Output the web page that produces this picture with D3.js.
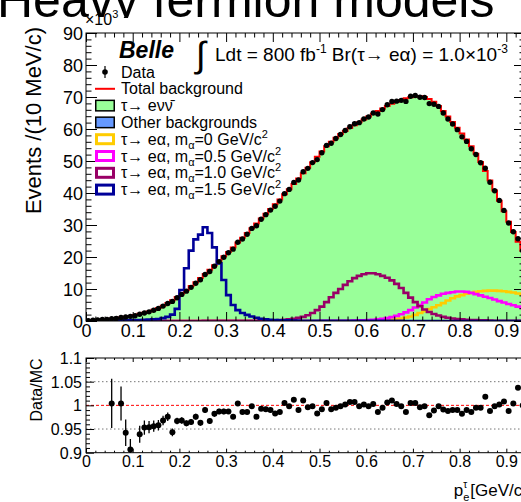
<!DOCTYPE html>
<html><head><meta charset="utf-8">
<script src="https://cdn.jsdelivr.net/npm/d3@7"></script>
<style>
body{margin:0;background:#fff}
svg{display:block}
text{font-family:"Liberation Sans",Arial,Helvetica,sans-serif;fill:#000}
</style></head>
<body><svg id="c" width="521" height="502"></svg>
<script>
// ---------------- DATA ----------------
const binLow = [0.00,0.01,0.02,0.03,0.04,0.05,0.06,0.07,0.08,0.09,
0.10,0.11,0.12,0.13,0.14,0.15,0.16,0.17,0.18,0.19,
0.20,0.21,0.22,0.23,0.24,0.25,0.26,0.27,0.28,0.29,
0.30,0.31,0.32,0.33,0.34,0.35,0.36,0.37,0.38,0.39,
0.40,0.41,0.42,0.43,0.44,0.45,0.46,0.47,0.48,0.49,
0.50,0.51,0.52,0.53,0.54,0.55,0.56,0.57,0.58,0.59,
0.60,0.61,0.62,0.63,0.64,0.65,0.66,0.67,0.68,0.69,
0.70,0.71,0.72,0.73,0.74,0.75,0.76,0.77,0.78,0.79,
0.80,0.81,0.82,0.83,0.84,0.85,0.86,0.87,0.88,0.89,
0.90,0.91,0.92,0.93];
// total background (x10^3 events / 10 MeV)
const totalBkg = [0.15,0.2,0.3,0.4,0.55,0.7,0.9,1.1,1.35,1.6,
1.9,2.25,2.6,3.0,3.5,4.1,4.8,5.6,6.5,7.5,
8.6,9.7,10.9,12.1,13.4,14.7,16.0,17.4,18.8,20.2,
21.6,23.0,24.5,26.0,27.5,29.0,30.5,32.0,33.5,35.0,
36.5,38.0,39.6,41.2,42.8,44.5,46.2,47.9,49.6,51.3,
53.0,54.6,56.0,57.3,58.4,59.4,60.3,61.2,62.1,63.0,
63.9,64.8,65.6,66.4,67.2,67.9,68.5,69.1,69.6,69.9,
70.1,70.2,70.0,69.4,68.5,67.2,65.6,63.9,62.2,60.4,
58.6,56.7,54.6,52.3,49.7,46.9,43.9,40.8,37.6,34.3,
31.0,27.8,24.8,22.0];
// other backgrounds
const otherBkg = [0.05,0.05,0.06,0.06,0.07,0.07,0.08,0.08,0.09,0.09,
0.1,0.1,0.1,0.11,0.11,0.12,0.12,0.13,0.13,0.14,
0.14,0.15,0.15,0.16,0.16,0.17,0.17,0.18,0.18,0.19,
0.19,0.2,0.2,0.2,0.21,0.21,0.22,0.22,0.22,0.23,
0.23,0.23,0.24,0.24,0.24,0.25,0.25,0.25,0.25,0.26,
0.26,0.26,0.26,0.26,0.27,0.27,0.27,0.27,0.27,0.27,
0.27,0.27,0.27,0.27,0.27,0.27,0.27,0.27,0.27,0.27,
0.27,0.27,0.26,0.26,0.26,0.25,0.25,0.24,0.24,0.23,
0.22,0.22,0.21,0.2,0.19,0.18,0.17,0.16,0.15,0.14,
0.13,0.12,0.11,0.1];
// data
const dataVals = [0.12,0.25,0.35,0.45,0.5,0.70,0.8,1.10,1.27,1.45,
1.65,2.11,2.48,2.86,3.35,3.93,4.65,5.47,6.13,7.25,
8.32,9.33,10.52,11.81,12.90,14.55,15.47,17.09,18.56,19.94,
21.32,22.45,24.60,25.64,27.12,28.94,29.77,31.78,33.23,34.65,
35.88,37.47,39.80,41.12,43.31,44.06,46.66,47.71,49.50,50.43,
52.58,54.87,55.55,57.01,58.28,59.52,60.72,61.63,61.98,63.13,
63.77,64.99,64.68,66.07,67.60,68.58,68.71,68.96,68.63,70.25,
70.45,69.92,69.86,67.94,67.75,67.07,65.01,63.13,61.58,59.80,
57.55,56.13,53.84,52.04,49.45,47.74,43.37,40.72,37.68,34.57,
30.63,27.91,25.72,22.0];
// signal: m_alpha = 0 GeV/c2
const sigM00 = [0,0,0,0,0,0,0,0,0,0,
0,0,0,0,0,0,0,0,0,0,
0,0,0,0,0,0,0,0,0,0,
0,0,0,0,0,0,0,0,0,0,
0,0,0,0,0,0,0,0,0,0,
0,0,0,0,0,0,0,0,0,0.05,
0.05,0.08,0.1,0.2,0.3,0.4,0.6,0.8,1.1,1.4,
1.9,2.5,3.1,3.7,4.3,4.9,5.6,6.4,7.1,7.7,
8.1,8.5,8.8,9.1,9.3,9.4,9.5,9.5,9.4,9.3,
9.1,8.9,8.6,8.3];
// signal: m_alpha = 0.5 GeV/c2
const sigM05 = [0,0,0,0,0,0,0,0,0,0,
0,0,0,0,0,0,0,0,0,0,
0,0,0,0,0,0,0,0,0,0,
0,0,0,0,0,0,0,0,0,0,
0,0,0,0,0,0,0,0,0,0.02,
0.03,0.04,0.05,0.06,0.08,0.1,0.1,0.15,0.2,0.25,
0.3,0.4,0.5,0.7,0.9,1.2,1.6,2.1,2.7,3.4,
4.2,5.0,5.8,6.8,7.5,8.0,8.5,8.8,9.0,9.2,
9.2,9.1,8.8,8.4,8.0,7.6,7.2,6.7,6.2,5.8,
5.3,4.9,4.5,4.1];
// signal: m_alpha = 1.0 GeV/c2
const sigM10 = [0,0,0,0,0,0,0,0,0,0,
0,0,0,0,0,0,0,0,0,0,
0,0,0,0,0,0.03,0.03,0.04,0.04,0.05,
0.05,0.05,0.06,0.06,0.07,0.08,0.1,0.12,0.15,0.18,
0.2,0.3,0.4,0.5,0.7,1.0,1.3,1.8,2.5,3.4,
4.5,5.9,7.4,8.8,10.0,11.3,12.4,13.4,14.1,14.6,
14.9,14.9,14.6,14.1,13.5,12.7,11.6,10.3,8.8,7.3,
5.9,4.6,3.6,2.8,2.2,1.7,1.3,1.0,0.8,0.6,
0.5,0.4,0.3,0.3,0.2,0.2,0.15,0.1,0.1,0.1,
0.08,0.08,0.06,0.06];
// signal: m_alpha = 1.5 GeV/c2
const sigM15 = [0.05,0.08,0.1,0.12,0.15,0.18,0.2,0.22,0.25,0.28,
0.3,0.33,0.37,0.42,0.5,0.6,0.9,1.3,2.0,3.8,
9.7,16.5,22.0,25.5,27.0,29.3,27.5,23.0,18.0,12.8,
8.1,5.0,3.4,2.5,1.9,1.4,1.0,0.7,0.5,0.4,
0.3,0.25,0.2,0.18,0.15,0.12,0.1,0.1,0.08,0.08,
0.07,0.07,0.06,0.06,0.05,0.05,0.05,0.05,0.04,0.04,
0.04,0.04,0.03,0.03,0.03,0.03,0.03,0.03,0.02,0.02,
0.02,0.02,0.02,0.02,0.02,0.02,0.02,0.02,0.02,0.02,
0.02,0.02,0.02,0.02,0.02,0.02,0.02,0.02,0.02,0.02,
0.02,0.02,0.02,0.02];
// Data/MC ratio (null = outside the displayed range)
const ratioVals = [null,null,null,null,null,1.004,null,1.004,0.942,0.907,
null,0.939,0.953,0.954,0.956,0.958,0.968,0.976,0.943,0.967,
0.968,0.962,0.965,0.976,0.963,0.990,0.967,0.982,0.987,0.987,
0.987,0.976,1.004,0.986,0.986,0.998,0.976,0.993,0.992,0.990,
0.983,0.986,1.005,0.998,1.012,0.990,1.010,0.996,0.998,0.983,
0.992,1.005,0.992,0.995,0.998,1.002,1.007,1.007,0.998,1.002,
0.998,1.003,0.986,0.995,1.006,1.010,1.003,0.998,0.986,1.005,
1.005,0.996,0.998,0.979,0.989,0.998,0.991,0.988,0.990,0.990,
0.982,0.990,0.986,0.995,0.995,1.018,0.988,0.998,1.002,1.008,
0.988,1.004,1.037,1.000];
const ratioErr = [null,null,null,null,null,0.052,null,0.036,0.028,0.022,
null,0.018,0.015,0.013,0.012,0.011,0.010,0.009,0.008,0.007,
0.007,0.006,0.006,0.006,0.006,0.006,0.006,0.006,0.006,0.006,
0.005,0.005,0.005,0.005,0.005,0.005,0.005,0.005,0.005,0.005,
0.005,0.005,0.005,0.005,0.005,0.005,0.005,0.005,0.005,0.005,
0.004,0.004,0.004,0.004,0.004,0.004,0.004,0.004,0.004,0.004,
0.004,0.004,0.004,0.004,0.004,0.004,0.004,0.004,0.004,0.004,
0.004,0.004,0.004,0.004,0.004,0.004,0.004,0.004,0.004,0.004,
0.004,0.004,0.004,0.004,0.004,0.004,0.004,0.004,0.004,0.004,
0.004,0.004,0.004,0.004];
const xMajorTicks = [0,0.1,0.2,0.3,0.4,0.5,0.6,0.7,0.8,0.9];
const yMainTicks = [0,10,20,30,40,50,60,70,80,90];
const yRatioTicks = [0.9,0.95,1,1.05,1.1];
const yRatioLabels = ["0.9","0.95","1","1.05","1.1"];
const legendLabels = ["Data","Total background","τ→ eνν̄","Other backgrounds",
  ["τ→ eα, m","α","=0 GeV/c","2"],["τ→ eα, m","α","=0.5 GeV/c","2"],
  ["τ→ eα, m","α","=1.0 GeV/c","2"],["τ→ eα, m","α","=1.5 GeV/c","2"]];

// ---------------- LAYOUT ----------------
const svg = d3.select("#c");
const L = 86, R = 525, T = 33, B = 321, RT = 358, RB = 452.7;
const x = d3.scaleLinear().domain([0, 0.94]).range([L, R]);
const y = d3.scaleLinear().domain([0, 90]).range([B, T]);
const yr = d3.scaleLinear().domain([0.9, 1.1]).range([RB, RT]);
const binW = binLow[1] - binLow[0];
const C = {green:"#99ff99", other:"#6699ff", red:"#ff0000", m00:"#ffcc00", m05:"#ff00ff", m10:"#990066", m15:"#000099"};

const defs = svg.append("defs");
defs.append("clipPath").attr("id","cm").append("rect").attr("x",L).attr("y",T).attr("width",R-L).attr("height",B-T);
defs.append("clipPath").attr("id","cr").append("rect").attr("x",L).attr("y",RT).attr("width",R-L).attr("height",RB-RT);
defs.append("clipPath").attr("id","ct").append("rect").attr("x",-10).attr("y",-60).attr("width",560).attr("height",78);

// title (cropped by the figure)
svg.append("text").attr("clip-path","url(#ct)").attr("x",-3).attr("y",17).attr("font-size",50).text("Heavy fermion models");

function steps(vals){
  const p = binLow.map((b,i)=>[b, vals[i]]);
  p.push([binLow[binLow.length-1]+binW, vals[vals.length-1]]);
  return p;
}
const stepLine = d3.line().x(d=>x(d[0])).y(d=>y(d[1])).curve(d3.curveStepAfter);

const gm = svg.append("g").attr("clip-path","url(#cm)");
const stackPts = binLow.map((b,i)=>[b, otherBkg[i], totalBkg[i]]);
stackPts.push([binLow[binLow.length-1]+binW, otherBkg[otherBkg.length-1], totalBkg[totalBkg.length-1]]);
gm.append("path").datum(stackPts)
  .attr("d", d3.area().x(d=>x(d[0])).y0(y(0)).y1(d=>y(d[1])).curve(d3.curveStepAfter))
  .attr("fill", C.other);
gm.append("path").datum(stackPts)
  .attr("d", d3.area().x(d=>x(d[0])).y0(d=>y(d[1])).y1(d=>y(d[2])).curve(d3.curveStepAfter))
  .attr("fill", C.green);
gm.append("path").datum(steps(totalBkg)).attr("d", stepLine)
  .attr("fill","none").attr("stroke",C.red).attr("stroke-width",2);
[[sigM00,C.m00],[sigM05,C.m05],[sigM10,C.m10],[sigM15,C.m15]].forEach(([v,c])=>{
  gm.append("path").datum(steps(v)).attr("d", stepLine)
    .attr("fill","none").attr("stroke",c).attr("stroke-width",2.6);
});
gm.selectAll("circle.d").data(binLow).join("circle")
  .attr("cx",(b)=>x(b+binW/2)).attr("cy",(b,i)=>y(dataVals[i])).attr("r",2.7).attr("fill","#000");

function axisStyle(g){ g.select(".domain").remove(); g.selectAll("line").attr("stroke","#000"); }
const minorX = [];
for (let k=0;k<=47;k++){ const v=+(k*0.02).toFixed(2); if (Math.round(v*100)%10!==0 && v<=0.94) minorX.push(v); }
const minorYm = []; for (let k=1;k<45;k++){ if (k%5!==0) minorYm.push(k*2); }

svg.append("g").attr("transform",`translate(0,${B})`)
  .call(d3.axisBottom(x).tickValues(xMajorTicks).tickSize(-9).tickPadding(0).tickFormat(d=>d===0?"0":d3.format(".1f")(d)))
  .call(axisStyle)
  .call(g=>g.selectAll("text").attr("dy",null).attr("y",16).attr("font-size",18).attr("font-family","Liberation Sans, Arial, sans-serif"));
svg.append("g").attr("transform",`translate(0,${B})`)
  .call(d3.axisBottom(x).tickValues(minorX).tickSize(-4.5).tickFormat("")).call(axisStyle);
svg.append("g").attr("transform",`translate(0,${T})`)
  .call(d3.axisTop(x).tickValues(xMajorTicks).tickSize(-9).tickFormat("")).call(axisStyle);
svg.append("g").attr("transform",`translate(0,${T})`)
  .call(d3.axisTop(x).tickValues(minorX).tickSize(-4.5).tickFormat("")).call(axisStyle);
svg.append("g").attr("transform",`translate(${L},0)`)
  .call(d3.axisLeft(y).tickValues(yMainTicks).tickSize(-11).tickPadding(0).tickFormat(d3.format("d")))
  .call(axisStyle)
  .call(g=>g.selectAll("text").attr("x",-3).attr("dy","0.35em").attr("font-size",18).attr("font-family","Liberation Sans, Arial, sans-serif"));
svg.append("g").attr("transform",`translate(${L},0)`)
  .call(d3.axisLeft(y).tickValues(minorYm).tickSize(-5.5).tickFormat("")).call(axisStyle);
svg.append("g").attr("transform",`translate(${R},0)`)
  .call(d3.axisRight(y).tickValues(yMainTicks).tickSize(-11).tickFormat("")).call(axisStyle);
svg.append("g").attr("transform",`translate(${R},0)`)
  .call(d3.axisRight(y).tickValues(minorYm).tickSize(-5.5).tickFormat("")).call(axisStyle);
svg.append("rect").attr("x",L).attr("y",T).attr("width",R-L).attr("height",B-T)
  .attr("fill","none").attr("stroke","#000").attr("stroke-width",1);

const e3 = svg.append("text").attr("x",85).attr("y",25).attr("font-size",16);
e3.append("tspan").text("×10");
e3.append("tspan").attr("dy",-7).attr("font-size",11).text("3");

svg.append("text").attr("transform","translate(41,27) rotate(-90)").attr("text-anchor","end")
  .attr("font-size",22).text("Events /(10 MeV/c)");

svg.append("text").attr("x",119).attr("y",58).attr("font-size",23).attr("font-weight","bold").attr("font-style","italic").text("Belle");
svg.append("text").attr("x",196).attr("y",67).attr("font-size",36).attr("font-family","DejaVu Sans").text("∫");
const lum = svg.append("text").attr("x",215).attr("y",61).attr("font-size",19);
lum.append("tspan").text("Ldt = 800 fb");
lum.append("tspan").attr("dy",-8).attr("font-size",12).text("-1");
lum.append("tspan").attr("dy",8).text(" Br(τ→ eα) = 1.0×10");
lum.append("tspan").attr("dy",-8).attr("font-size",12).text("-3");

const lg = svg.append("g");
const ly0 = 72, ldy = 16.8, lbx = 95, lbw = 20, ltx = 121;
legendLabels.forEach((lab,i)=>{
  const cy = ly0 + i*ldy;
  const t = lg.append("text").attr("x",ltx).attr("y",cy+5.5).attr("font-size",16);
  if (typeof lab === "string") t.text(lab);
  else {
    t.append("tspan").text(lab[0]);
    t.append("tspan").attr("dy",4).attr("font-size",11).text(lab[1]);
    t.append("tspan").attr("dy",-4).text(lab[2]);
    t.append("tspan").attr("dy",-7).attr("font-size",11).text(lab[3]);
  }
});
lg.append("line").attr("x1",lbx+lbw/2).attr("x2",lbx+lbw/2).attr("y1",ly0-6).attr("y2",ly0+6).attr("stroke","#000").attr("stroke-width",1.2);
lg.append("circle").attr("cx",lbx+lbw/2).attr("cy",ly0).attr("r",2.8).attr("fill","#000");
lg.append("line").attr("x1",lbx).attr("x2",lbx+lbw).attr("y1",ly0+ldy).attr("y2",ly0+ldy).attr("stroke",C.red).attr("stroke-width",2);
const boxes = [[C.green,"#000",1.5],[C.other,"#000",1.5],["#fff",C.m00,3],["#fff",C.m05,3],["#fff",C.m10,3],["#fff",C.m15,3]];
boxes.forEach(([f,s,w],j)=>{
  const cy = ly0 + (j+2)*ldy;
  lg.append("rect").attr("x",lbx+w/2).attr("y",cy-6+w/2).attr("width",lbw-w).attr("height",12-w)
    .attr("fill",f).attr("stroke",s).attr("stroke-width",w);
});

// ---------------- RATIO PANEL ----------------
const gr = svg.append("g").attr("clip-path","url(#cr)");
[0.95,1.05].forEach(v=>{
  gr.append("line").attr("x1",L).attr("x2",R).attr("y1",yr(v)).attr("y2",yr(v))
    .attr("stroke","#777").attr("stroke-width",1).attr("stroke-dasharray","1.5,2.5");
});
gr.append("line").attr("x1",L).attr("x2",R).attr("y1",yr(1)).attr("y2",yr(1))
  .attr("stroke",C.red).attr("stroke-width",1).attr("stroke-dasharray","3,2");
const rp = binLow.map((b,i)=>({b, r:ratioVals[i], e:ratioErr[i]})).filter(d=>d.r!==null);
gr.selectAll("line.err").data(rp).join("line")
  .attr("x1",d=>x(d.b+binW/2)).attr("x2",d=>x(d.b+binW/2))
  .attr("y1",d=>yr(d.r-d.e)).attr("y2",d=>yr(d.r+d.e)).attr("stroke","#000").attr("stroke-width",1.3);
gr.selectAll("circle.r").data(rp).join("circle")
  .attr("cx",d=>x(d.b+binW/2)).attr("cy",d=>yr(d.r)).attr("r",3).attr("fill","#000");

const minorYr = []; for (let k=1;k<20;k++){ if (k%5!==0) minorYr.push(+(0.9+k*0.01).toFixed(2)); }
svg.append("g").attr("transform",`translate(0,${RB})`)
  .call(d3.axisBottom(x).tickValues(xMajorTicks).tickSize(-4).tickPadding(0).tickFormat(d=>d===0?"0":d3.format(".1f")(d)))
  .call(axisStyle)
  .call(g=>g.selectAll("text").attr("dy",null).attr("y",14.5).attr("font-size",16).attr("font-family","Liberation Sans, Arial, sans-serif"));
svg.append("g").attr("transform",`translate(0,${RB})`)
  .call(d3.axisBottom(x).tickValues(minorX).tickSize(-2).tickFormat("")).call(axisStyle);
svg.append("g").attr("transform",`translate(0,${RT})`)
  .call(d3.axisTop(x).tickValues(xMajorTicks).tickSize(-4).tickFormat("")).call(axisStyle);
svg.append("g").attr("transform",`translate(0,${RT})`)
  .call(d3.axisTop(x).tickValues(minorX).tickSize(-2).tickFormat("")).call(axisStyle);
svg.append("g").attr("transform",`translate(${L},0)`)
  .call(d3.axisLeft(yr).tickValues(yRatioTicks).tickSize(-8).tickPadding(0).tickFormat((d,i)=>yRatioLabels[i]))
  .call(axisStyle)
  .call(g=>g.selectAll("text").attr("x",-4).attr("dy","0.35em").attr("font-size",16).attr("font-family","Liberation Sans, Arial, sans-serif"));
svg.append("g").attr("transform",`translate(${L},0)`)
  .call(d3.axisLeft(yr).tickValues(minorYr).tickSize(-4).tickFormat("")).call(axisStyle);
svg.append("rect").attr("x",L).attr("y",RT).attr("width",R-L).attr("height",RB-RT)
  .attr("fill","none").attr("stroke","#000").attr("stroke-width",1);

svg.append("text").attr("transform",`translate(41.5,390) rotate(-90)`).attr("text-anchor","middle")
  .attr("font-size",16).text("Data/MC");

// x title, right-aligned at the frame edge
const xt = svg.append("text").attr("x",R+2).attr("y",496).attr("font-size",17).attr("text-anchor","end");
xt.append("tspan").text("p");
xt.append("tspan").attr("dy",5).attr("font-size",11).text("e");
xt.append("tspan").attr("dx",-6).attr("dy",-13).attr("font-size",10).text("τ");
xt.append("tspan").attr("dx",3).attr("dy",8).text("[GeV/c]");
</script>
</body></html>
